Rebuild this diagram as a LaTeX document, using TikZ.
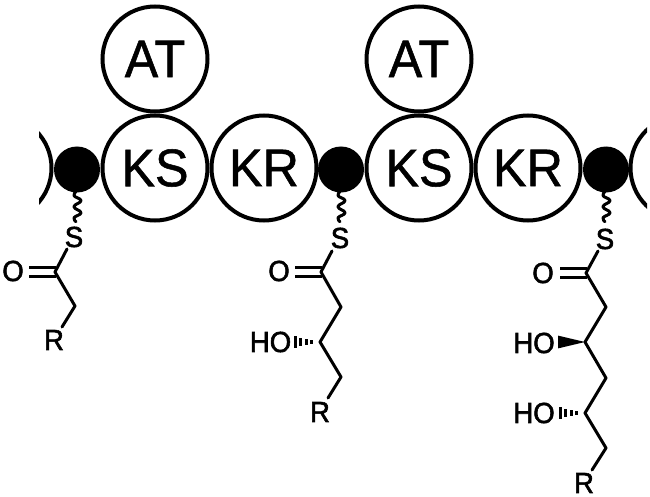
\documentclass[tikz,border=0pt]{standalone}
\usepackage{fontspec}
\setmainfont{Liberation Sans}
\newfontfamily\bigfam{Liberation Sans}[FakeBold=1,FakeStretch=0.95]
\newfontfamily\smallfam{Liberation Sans}[FakeBold=2,FakeStretch=0.95]
\newcommand{\bigfont}{\bigfam\fontsize{53}{53}\selectfont}
\newcommand{\smallfont}{\smallfam\fontsize{29}{29}\selectfont}
% #1 carbon coordinate: dashed wedge pointing left
\newcommand{\hashwedge}[1]{%
  \foreach \dx/\hw in {7/2,12.5/3,18/4.2,23.5/5.6}{
    \fill ([xshift=-\dx pt,yshift=-\hw pt]#1) rectangle ([xshift=-\dx pt-3pt,yshift=\hw pt]#1);
  }}
\newcommand{\squiggle}[1]{%
  \draw[bond,shift={(#1.south)}] plot[smooth,tension=0.8] coordinates
    {(-1,-1) (-3,3) (4,8) (-3,14) (4,20) (-3,25) (-1,29)};}
\tikzset{
  enzyme/.style={circle,draw,line width=4pt,fill=white,minimum size=105pt,inner sep=0pt,font=\bigfont},
  acp/.style={circle,fill=black,minimum size=46pt,inner sep=0pt},
  atomlabel/.style={inner sep=0pt,font=\smallfont},
  bond/.style={line width=3pt,line cap=round,line join=round},
  dbond/.style={line width=3pt,line cap=butt}
}
\begin{document}
\begin{tikzpicture}[x=1pt,y=-1pt]
\useasboundingbox[fill=white] (0,0) rectangle (650,497);
% clipped end circles
\begin{scope}
  \clip (39,100) rectangle (647,240);
  \node[enzyme] (endL) at (-1,168) {};
  \node[enzyme] (endR) at (683,168) {};
\end{scope}
% enzymes
\node[enzyme] (at1) at (155,59) {AT};
\node[enzyme] (ks1) at (155,168) {KS};
\node[enzyme] (kr1) at (264,168) {KR};
\node[enzyme] (at2) at (419,59) {AT};
\node[enzyme] (ks2) at (419,168) {KS};
\node[enzyme] (kr2) at (528,168) {KR};
\node[acp] (acp1) at (77,169.5) {};
\node[acp] (acp2) at (341,169.5) {};
\node[acp] (acp3) at (606,169.5) {};
% squiggles
\squiggle{acp1}
\squiggle{acp2}
\squiggle{acp3}
% --- chain 1
\node[atomlabel] (s1) at (74,237) {S};
\node[atomlabel] (o1) at (13,271) {O};
\node[atomlabel] (r1) at (54,340) {R};
\coordinate (c1a) at (55,272);
\coordinate (c1b) at (75,306);
\draw[bond] (67,249) -- (c1a) -- (c1b) -- (62,327);
\draw[dbond] (29,267.2) -- (55.5,267.2) (29,276.4) -- (55.5,276.4);
% --- chain 2
\node[atomlabel] (s2) at (340,238) {S};
\node[atomlabel] (o2) at (279,271) {O};
\node[atomlabel] (ho2) at (270.5,342) {HO};
\node[atomlabel] (r2) at (320,412) {R};
\coordinate (c2a) at (321,272);
\coordinate (c2b) at (341,307);
\coordinate (c2c) at (320,342);
\coordinate (c2d) at (341,377);
\draw[bond] (332,251) -- (c2a) -- (c2b) -- (c2c) -- (c2d) -- (328,398);
\draw[dbond] (295,267.2) -- (321.5,267.2) (295,276.8) -- (321.5,276.8);
\hashwedge{c2c}
% --- chain 3
\node[atomlabel] (s3) at (605,239) {S};
\node[atomlabel] (o3) at (543,273) {O};
\node[atomlabel] (ho3a) at (534,343) {HO};
\node[atomlabel] (ho3b) at (534,413) {HO};
\node[atomlabel] (r3) at (584,483) {R};
\coordinate (c3a) at (586,273);
\coordinate (c3b) at (606,307);
\coordinate (c3c) at (585,342);
\coordinate (c3d) at (606,378);
\coordinate (c3e) at (585,413);
\coordinate (c3f) at (606,448);
\draw[bond] (598,251) -- (c3a) -- (c3b) -- (c3c) -- (c3d) -- (c3e) -- (c3f) -- (592,470);
\draw[dbond] (560,268) -- (586.5,268) (560,277.6) -- (586.5,277.6);
\fill (c3c) -- ([xshift=-27pt,yshift=-6.4pt]c3c) -- ([xshift=-27pt,yshift=6.4pt]c3c) -- cycle;
\hashwedge{c3e}
\end{tikzpicture}
\end{document}
